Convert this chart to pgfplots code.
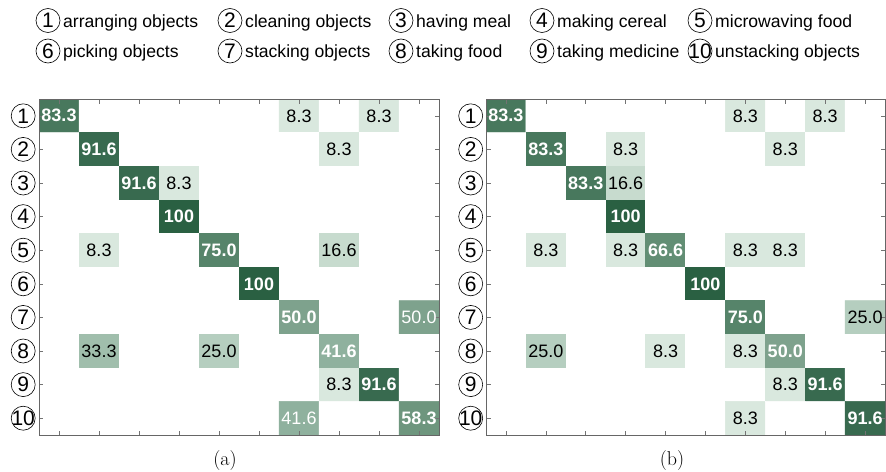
\documentclass[border=0pt]{standalone}
\usepackage{pgfplots}
\pgfplotsset{compat=1.18}
\usepackage{fontspec}
\newfontfamily\arial{Liberation Sans}

\pgfplotsset{
 colormap={cm}{rgb255(0)=(255,255,255) rgb255(83)=(217,232,222) rgb255(166)=(199,219,206) rgb255(250)=(181,206,191) rgb255(333)=(160,190,172) rgb255(416)=(143,177,158) rgb255(500)=(126,162,141) rgb255(583)=(110,150,126) rgb255(666)=(98,142,116) rgb255(750)=(86,132,106) rgb255(833)=(72,120,93) rgb255(916)=(56,106,79) rgb255(1000)=(42,96,66)},
 cmaxis/.style={
  scale only axis, height=336bp,
  xmin=0.5, xmax=10.5, ymin=0.5, ymax=10.5, y dir=reverse,
  xtick={1,...,10}, ytick={1,...,10}, xticklabels={},
  yticklabels={\makebox[0pt]{1},\makebox[0pt]{2},\makebox[0pt]{3},\makebox[0pt]{4},\makebox[0pt]{5},\makebox[0pt]{6},\makebox[0pt]{7},\makebox[0pt]{8},\makebox[0pt]{9},\makebox[0pt]{10}},
  tick align=inside, major tick length=4.5bp,
  tick style={black!55, line width=0.6bp},
  axis line style={black!60, line width=0.8bp},
  xtick pos=both, ytick pos=both, yticklabel pos=left,
  yticklabel style={circle, draw=black, line width=0.6bp, inner sep=0pt, minimum size=24bp, font=\arial\fontsize{21bp}{21bp}\selectfont},
  colormap name=cm, point meta min=0, point meta max=100,
  axis on top,
 },
 txt/.style={only marks, mark=none, mesh/check=false, nodes near coords, point meta=explicit symbolic},
 wb/.style={txt,
   nodes near coords style={anchor=center, inner sep=0pt, text=white, font=\arial\bfseries\fontsize{18bp}{18bp}\selectfont}},
 wn/.style={txt,
   nodes near coords style={anchor=center, inner sep=0pt, text=white, font=\arial\fontsize{18bp}{18bp}\selectfont}},
 bk/.style={txt,
   nodes near coords style={anchor=center, inner sep=0pt, text=black, font=\arial\fontsize{18bp}{18bp}\selectfont}},
 cmcells/.style={matrix plot*, mesh/cols=10, mesh/rows=10, point meta=explicit},
}

\newcommand{\legitem}[4]{%
 \node[circle, draw, line width=0.6bp, inner sep=0pt, minimum size=24bp, font=\arial\fontsize{21bp}{21bp}\selectfont] at (#1bp,#2bp) {\makebox[0pt]{#3}};
 \node[anchor=base west, inner sep=0pt, font=\arial\fontsize{17.6bp}{17.6bp}\selectfont] at ([xshift=15bp, yshift=-6.5bp]#1bp,#2bp) {#4};}

\begin{document}
\begin{tikzpicture}
\useasboundingbox (0,0) rectangle (886bp,-472bp);

\legitem{48}{-20.5}{1}{arranging objects}
\legitem{230}{-20.5}{2}{cleaning objects}
\legitem{401}{-20.5}{3}{having meal}
\legitem{542}{-20.5}{4}{making cereal}
\legitem{700}{-20.5}{5}{microwaving food}
\legitem{48}{-51}{6}{picking objects}
\legitem{230}{-51}{7}{stacking objects}
\legitem{401}{-51}{8}{taking food}
\legitem{542}{-51}{9}{taking medicine}
\legitem{700}{-51}{10}{unstacking objects}

% ---------- (a) ----------
\begin{axis}[cmaxis, width=400bp, at={(39bp,-435bp)}, anchor=south west,
  yticklabel style={xshift=-3.5bp}]
\addplot[cmcells] coordinates {
(1,1)[83.3] (2,1)[0] (3,1)[0] (4,1)[0] (5,1)[0] (6,1)[0] (7,1)[8.3] (8,1)[0] (9,1)[8.3] (10,1)[0]
(1,2)[0] (2,2)[91.6] (3,2)[0] (4,2)[0] (5,2)[0] (6,2)[0] (7,2)[0] (8,2)[8.3] (9,2)[0] (10,2)[0]
(1,3)[0] (2,3)[0] (3,3)[91.6] (4,3)[8.3] (5,3)[0] (6,3)[0] (7,3)[0] (8,3)[0] (9,3)[0] (10,3)[0]
(1,4)[0] (2,4)[0] (3,4)[0] (4,4)[100] (5,4)[0] (6,4)[0] (7,4)[0] (8,4)[0] (9,4)[0] (10,4)[0]
(1,5)[0] (2,5)[8.3] (3,5)[0] (4,5)[0] (5,5)[75] (6,5)[0] (7,5)[0] (8,5)[16.6] (9,5)[0] (10,5)[0]
(1,6)[0] (2,6)[0] (3,6)[0] (4,6)[0] (5,6)[0] (6,6)[100] (7,6)[0] (8,6)[0] (9,6)[0] (10,6)[0]
(1,7)[0] (2,7)[0] (3,7)[0] (4,7)[0] (5,7)[0] (6,7)[0] (7,7)[50] (8,7)[0] (9,7)[0] (10,7)[50]
(1,8)[0] (2,8)[33.3] (3,8)[0] (4,8)[0] (5,8)[25] (6,8)[0] (7,8)[0] (8,8)[41.6] (9,8)[0] (10,8)[0]
(1,9)[0] (2,9)[0] (3,9)[0] (4,9)[0] (5,9)[0] (6,9)[0] (7,9)[0] (8,9)[8.3] (9,9)[91.6] (10,9)[0]
(1,10)[0] (2,10)[0] (3,10)[0] (4,10)[0] (5,10)[0] (6,10)[0] (7,10)[41.6] (8,10)[0] (9,10)[0] (10,10)[58.3]
};
\addplot[wb] coordinates {(1,1)[83.3] (2,2)[91.6] (3,3)[91.6] (4,4)[100] (5,5)[75.0] (6,6)[100] (7,7)[50.0] (8,8)[41.6] (9,9)[91.6] (10,10)[58.3]};
\addplot[wn] coordinates {(10,7)[50.0] (7,10)[41.6]};
\addplot[bk] coordinates {(7,1)[8.3] (9,1)[8.3] (8,2)[8.3] (4,3)[8.3] (2,5)[8.3] (8,5)[16.6] (2,8)[33.3] (5,8)[25.0] (8,9)[8.3]};
\end{axis}

% ---------- (b) ----------
\begin{axis}[cmaxis, width=399bp, at={(486bp,-435bp)}, anchor=south west,
  yticklabel style={xshift=-3bp}]
\addplot[cmcells] coordinates {
(1,1)[83.3] (2,1)[0] (3,1)[0] (4,1)[0] (5,1)[0] (6,1)[0] (7,1)[8.3] (8,1)[0] (9,1)[8.3] (10,1)[0]
(1,2)[0] (2,2)[83.3] (3,2)[0] (4,2)[8.3] (5,2)[0] (6,2)[0] (7,2)[0] (8,2)[8.3] (9,2)[0] (10,2)[0]
(1,3)[0] (2,3)[0] (3,3)[83.3] (4,3)[16.6] (5,3)[0] (6,3)[0] (7,3)[0] (8,3)[0] (9,3)[0] (10,3)[0]
(1,4)[0] (2,4)[0] (3,4)[0] (4,4)[100] (5,4)[0] (6,4)[0] (7,4)[0] (8,4)[0] (9,4)[0] (10,4)[0]
(1,5)[0] (2,5)[8.3] (3,5)[0] (4,5)[8.3] (5,5)[66.6] (6,5)[0] (7,5)[8.3] (8,5)[8.3] (9,5)[0] (10,5)[0]
(1,6)[0] (2,6)[0] (3,6)[0] (4,6)[0] (5,6)[0] (6,6)[100] (7,6)[0] (8,6)[0] (9,6)[0] (10,6)[0]
(1,7)[0] (2,7)[0] (3,7)[0] (4,7)[0] (5,7)[0] (6,7)[0] (7,7)[75] (8,7)[0] (9,7)[0] (10,7)[25]
(1,8)[0] (2,8)[25] (3,8)[0] (4,8)[0] (5,8)[8.3] (6,8)[0] (7,8)[8.3] (8,8)[50] (9,8)[0] (10,8)[0]
(1,9)[0] (2,9)[0] (3,9)[0] (4,9)[0] (5,9)[0] (6,9)[0] (7,9)[0] (8,9)[8.3] (9,9)[91.6] (10,9)[0]
(1,10)[0] (2,10)[0] (3,10)[0] (4,10)[0] (5,10)[0] (6,10)[0] (7,10)[8.3] (8,10)[0] (9,10)[0] (10,10)[91.6]
};
\addplot[wb] coordinates {(1,1)[83.3] (2,2)[83.3] (3,3)[83.3] (4,4)[100] (5,5)[66.6] (6,6)[100] (7,7)[75.0] (8,8)[50.0] (9,9)[91.6] (10,10)[91.6]};
\addplot[bk] coordinates {(7,1)[8.3] (9,1)[8.3] (4,2)[8.3] (8,2)[8.3] (4,3)[16.6] (2,5)[8.3] (4,5)[8.3] (7,5)[8.3] (8,5)[8.3] (10,7)[25.0] (2,8)[25.0] (5,8)[8.3] (7,8)[8.3] (8,9)[8.3] (7,10)[8.3]};
\end{axis}

\node[font=\fontsize{20bp}{20bp}\selectfont] at (225bp,-461bp) {(a)};
\node[font=\fontsize{20bp}{20bp}\selectfont] at (672bp,-461bp) {(b)};
\end{tikzpicture}
\end{document}
